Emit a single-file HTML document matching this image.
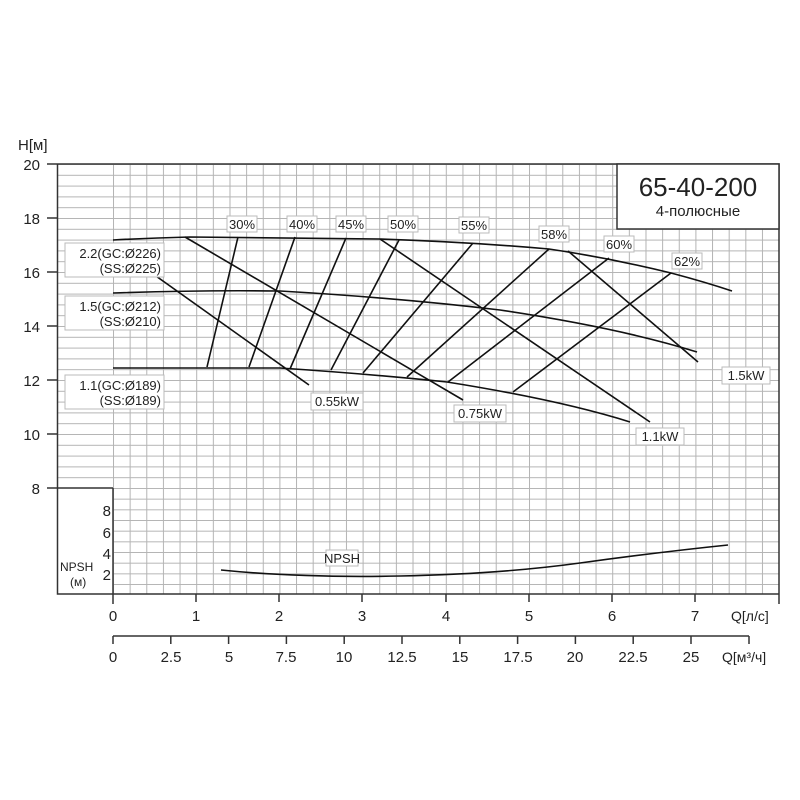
<!DOCTYPE html>
<html><head><meta charset="utf-8"><style>
html,body{margin:0;padding:0;background:#fff}
svg{display:block}
text{font-family:"Liberation Sans",sans-serif;fill:#222}
</style></head><body>
<svg width="800" height="800" viewBox="0 0 800 800" xmlns="http://www.w3.org/2000/svg">
<defs>
<pattern id="g1" x="113" y="164" width="16.64" height="10.8" patternUnits="userSpaceOnUse">
<path d="M0.5 0V10.8M0 0.5H16.64" stroke="#b4b4b4" stroke-width="1" fill="none"/>
</pattern>
<pattern id="g0" x="57" y="164" width="56" height="10.8" patternUnits="userSpaceOnUse">
<path d="M0 0.5H56" stroke="#b4b4b4" fill="none"/>
</pattern>
<pattern id="g2" x="113" y="488" width="16.64" height="10.67" patternUnits="userSpaceOnUse">
<path d="M0.5 0V10.67M0 0.5H16.64" stroke="#b4b4b4" fill="none"/>
</pattern>
</defs>
<rect x="113" y="164" width="666" height="324" fill="url(#g1)"/>
<rect x="57" y="164" width="56" height="324" fill="url(#g0)"/>
<rect x="113" y="488" width="666" height="106" fill="url(#g2)"/>
<!-- frame -->
<g stroke="#333" stroke-width="1.5" fill="none">
<path d="M47 164H779V604"/>
<path d="M57.5 164V594H779"/>
<path d="M113 488V604"/>
<path d="M47 488H113"/>
<path d="M47 218H57M47 272H57M47 326H57M47 380H57M47 434H57"/>
<path d="M196 594V602M279 594V602M362 594V602M446 594V602M529 594V602M612 594V602M695 594V602"/>
<path d="M113 636H749M113 636V644M170.8 636V644M228.6 636V644M286.4 636V644M344.2 636V644M402 636V644M459.8 636V644M517.6 636V644M575.4 636V644M633.2 636V644M691 636V644M749 636V644"/>
</g>
<!-- title box -->
<rect x="617" y="164" width="162" height="65" fill="#fff" stroke="#333" stroke-width="1.5"/>
<text x="698" y="196" font-size="26" text-anchor="middle">65-40-200</text>
<text x="698" y="216" font-size="15" text-anchor="middle">4-полюсные</text>
<!-- y labels -->
<g font-size="15" text-anchor="end">
<text x="40" y="170">20</text><text x="40" y="224">18</text><text x="40" y="278">16</text>
<text x="40" y="332">14</text><text x="40" y="386">12</text><text x="40" y="440">10</text>
<text x="40" y="494">8</text>
</g>
<text x="18" y="150" font-size="15">H[м]</text>
<g font-size="15" text-anchor="end">
<text x="111" y="516">8</text><text x="111" y="538">6</text><text x="111" y="559">4</text><text x="111" y="580">2</text>
</g>
<text x="60" y="571" font-size="12">NPSH</text>
<text x="70" y="586" font-size="12">(м)</text>
<!-- x labels -->
<g font-size="15" text-anchor="middle">
<text x="113" y="621">0</text><text x="196" y="621">1</text><text x="279" y="621">2</text><text x="362" y="621">3</text>
<text x="446" y="621">4</text><text x="529" y="621">5</text><text x="612" y="621">6</text><text x="695" y="621">7</text>
<text x="113" y="662">0</text><text x="171" y="662">2.5</text><text x="229" y="662">5</text><text x="286" y="662">7.5</text>
<text x="344" y="662">10</text><text x="402" y="662">12.5</text><text x="460" y="662">15</text><text x="518" y="662">17.5</text>
<text x="575" y="662">20</text><text x="633" y="662">22.5</text><text x="691" y="662">25</text>
</g>
<text x="731" y="621" font-size="14">Q[л/с]</text>
<text x="722" y="662" font-size="14">Q[м³/ч]</text>
<!-- curves -->
<g stroke="#111" stroke-width="1.6" fill="none">
<path d="M113 240 Q150 238 190 237 L380 239 Q470 242 549 249 Q610 258 671 273 Q705 282 732 291"/>
<path d="M113 293 Q200 290 280 291 Q400 298 500 310 Q620 328 697 352"/>
<path d="M113 368 L280 368 Q370 374 447 382 Q560 400 630 422"/>
<path d="M221 570 Q300 578 400 576 Q500 574 580 563 Q660 552 728 545"/>
<path d="M238 237L207 367M295 237L249 367M346 238L290 369M399 240L331 370M473 243L363 373M549 249L407 377M609 258L448 382M671 273L513 392"/>
<path d="M118 249L309 385M185 237L463 400M380 239L650 422M568 251L698 362"/>
</g>
<!-- labels -->
<g font-size="13" text-anchor="middle">
<g fill="#fff" stroke="#bbb" stroke-width="1">
<rect x="227" y="216" width="30" height="16"/><rect x="287" y="216" width="30" height="16"/>
<rect x="336" y="216" width="30" height="16"/><rect x="388" y="216" width="30" height="16"/>
<rect x="459" y="217" width="30" height="16"/><rect x="539" y="226" width="30" height="16"/>
<rect x="604" y="236" width="30" height="16"/><rect x="672" y="253" width="30" height="16"/>
<rect x="311" y="393" width="52" height="17"/><rect x="454" y="405" width="52" height="17"/>
<rect x="636" y="428" width="48" height="17"/><rect x="722" y="367" width="48" height="17"/>
<rect x="65" y="243" width="99" height="34"/><rect x="65" y="296" width="99" height="34"/>
<rect x="65" y="375" width="99" height="34"/><rect x="326" y="550" width="32" height="16"/>
</g>
<text x="242" y="229">30%</text><text x="302" y="229">40%</text><text x="351" y="229">45%</text>
<text x="403" y="229">50%</text><text x="474" y="230">55%</text><text x="554" y="239">58%</text>
<text x="619" y="249">60%</text><text x="687" y="266">62%</text>
<text x="337" y="406">0.55kW</text><text x="480" y="418">0.75kW</text>
<text x="660" y="441">1.1kW</text><text x="746" y="380">1.5kW</text>
<text x="342" y="563">NPSH</text>
</g>
<g font-size="13" text-anchor="end">
<text x="161" y="258">2.2(GC:Ø226)</text><text x="161" y="273">(SS:Ø225)</text>
<text x="161" y="311">1.5(GC:Ø212)</text><text x="161" y="326">(SS:Ø210)</text>
<text x="161" y="390">1.1(GC:Ø189)</text><text x="161" y="405">(SS:Ø189)</text>
</g>
</svg>
</body></html>
